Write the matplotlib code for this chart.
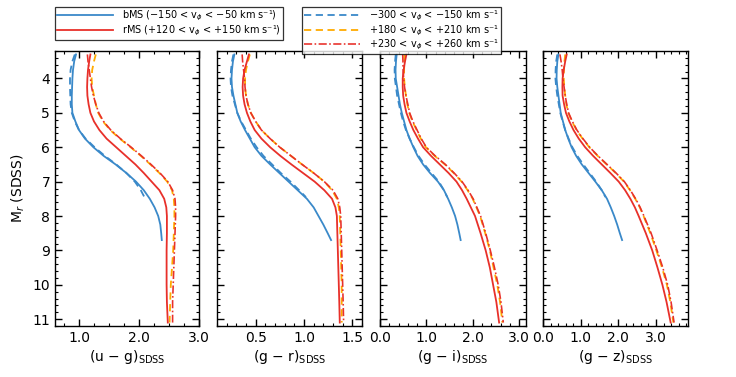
import matplotlib
matplotlib.use("Agg")
from matplotlib import pyplot as plt
from matplotlib.ticker import MultipleLocator, FormatStrFormatter
from matplotlib.lines import Line2D

# absolute magnitude grids
mr_blue = [3.3, 3.5, 3.75, 4.0, 4.25, 4.5, 4.75, 5.0, 5.25, 5.5, 5.75, 6.0,
           6.25, 6.5, 6.75, 7.0, 7.25, 7.5, 7.75, 8.0, 8.25, 8.5, 8.7]
mr_blue_dash = [3.3, 3.5, 3.75, 4.0, 4.25, 4.5, 4.75, 5.0, 5.25, 5.5, 5.75,
                6.0, 6.25, 6.5, 6.75, 7.0, 7.25, 7.45]
mr_red = [3.3, 3.5, 3.75, 4.0, 4.25, 4.5, 4.75, 5.0, 5.25, 5.5, 5.75, 6.0,
          6.25, 6.5, 6.75, 7.0, 7.25, 7.5, 7.75, 8.0, 8.5, 9.0, 9.5, 10.0, 10.5, 11.1]

# (u - g)
ug_bms = [0.95, 0.92, 0.90, 0.89, 0.885, 0.88, 0.88, 0.89, 0.94, 1.00, 1.10, 1.24,
          1.41, 1.61, 1.79, 1.95, 2.08, 2.18, 2.26, 2.32, 2.355, 2.37, 2.38]
ug_v300 = [0.93, 0.89, 0.86, 0.85, 0.85, 0.855, 0.86, 0.88, 0.93, 1.00, 1.11, 1.26,
           1.43, 1.62, 1.79, 1.93, 2.03, 2.09]
ug_rms = [1.19, 1.17, 1.15, 1.14, 1.135, 1.14, 1.16, 1.19, 1.25, 1.34, 1.46, 1.62, 1.78,
          1.94, 2.08, 2.21, 2.34, 2.42, 2.455, 2.465, 2.465, 2.46, 2.46, 2.46, 2.465, 2.48]
ug_v180 = [1.28, 1.25, 1.22, 1.21, 1.22, 1.25, 1.28, 1.32, 1.40, 1.52, 1.68, 1.86, 2.03,
           2.19, 2.34, 2.47, 2.55, 2.58, 2.59, 2.59, 2.58, 2.57, 2.55, 2.53, 2.52, 2.51]
ug_v230 = [1.14, 1.15, 1.17, 1.19, 1.21, 1.24, 1.28, 1.33, 1.41, 1.53, 1.69, 1.87, 2.04,
           2.20, 2.35, 2.48, 2.56, 2.60, 2.61, 2.61, 2.60, 2.59, 2.58, 2.57, 2.56, 2.56]

# (g - r)
gr_bms = [0.28, 0.265, 0.255, 0.25, 0.255, 0.27, 0.29, 0.31, 0.345, 0.39, 0.44, 0.49,
          0.56, 0.65, 0.745, 0.84, 0.935, 1.03, 1.10, 1.15, 1.20, 1.245, 1.28]
gr_v300 = [0.27, 0.255, 0.245, 0.24, 0.245, 0.26, 0.285, 0.31, 0.35, 0.40, 0.45, 0.51,
           0.58, 0.67, 0.76, 0.86, 0.95, 1.02]
gr_rms = [0.43, 0.41, 0.385, 0.37, 0.365, 0.37, 0.385, 0.41, 0.445, 0.49, 0.56, 0.65, 0.755,
          0.87, 0.99, 1.11, 1.21, 1.29, 1.325, 1.34, 1.345, 1.35, 1.355, 1.36, 1.365, 1.37]
gr_v180 = [0.44, 0.42, 0.40, 0.39, 0.39, 0.40, 0.42, 0.45, 0.50, 0.56, 0.65, 0.75, 0.865,
           0.98, 1.10, 1.21, 1.29, 1.34, 1.36, 1.37, 1.375, 1.38, 1.385, 1.39, 1.39, 1.39]
gr_v230 = [0.36, 0.365, 0.375, 0.385, 0.39, 0.40, 0.42, 0.45, 0.50, 0.56, 0.65, 0.75, 0.865,
           0.98, 1.10, 1.21, 1.30, 1.35, 1.37, 1.38, 1.385, 1.39, 1.395, 1.40, 1.405, 1.41]

# (g - i)
gi_bms = [0.36, 0.345, 0.335, 0.34, 0.37, 0.40, 0.43, 0.47, 0.52, 0.57, 0.64, 0.72,
          0.81, 0.93, 1.08, 1.25, 1.38, 1.47, 1.55, 1.62, 1.67, 1.71, 1.74]
gi_v300 = [0.34, 0.325, 0.315, 0.32, 0.345, 0.37, 0.41, 0.45, 0.50, 0.56, 0.64, 0.73,
           0.83, 0.96, 1.11, 1.27, 1.38, 1.45]
gi_rms = [0.57, 0.54, 0.51, 0.49, 0.49, 0.50, 0.53, 0.57, 0.64, 0.72, 0.82, 0.93, 1.10,
          1.29, 1.48, 1.65, 1.77, 1.87, 1.96, 2.05, 2.17, 2.28, 2.37, 2.44, 2.51, 2.57]
gi_v180 = [0.53, 0.525, 0.52, 0.52, 0.535, 0.56, 0.59, 0.63, 0.70, 0.79, 0.88, 0.99, 1.18,
           1.40, 1.59, 1.76, 1.89, 2.00, 2.08, 2.16, 2.27, 2.37, 2.45, 2.53, 2.59, 2.64]
gi_v230 = [0.49, 0.495, 0.50, 0.51, 0.53, 0.56, 0.60, 0.64, 0.71, 0.80, 0.89, 1.00, 1.19,
           1.41, 1.60, 1.77, 1.90, 2.01, 2.09, 2.17, 2.28, 2.38, 2.47, 2.55, 2.61, 2.66]

# (g - z)
gz_bms = [0.41, 0.38, 0.365, 0.36, 0.38, 0.41, 0.44, 0.47, 0.53, 0.59, 0.67, 0.76,
          0.88, 1.03, 1.21, 1.39, 1.56, 1.70, 1.80, 1.89, 1.97, 2.04, 2.10]
gz_v300 = [0.38, 0.35, 0.335, 0.33, 0.35, 0.38, 0.42, 0.46, 0.52, 0.59, 0.68, 0.78,
           0.91, 1.07, 1.24, 1.41, 1.56, 1.66]
gz_rms = [0.63, 0.59, 0.55, 0.52, 0.515, 0.52, 0.56, 0.61, 0.70, 0.81, 0.95, 1.12, 1.33,
          1.56, 1.79, 2.01, 2.18, 2.32, 2.44, 2.54, 2.73, 2.90, 3.04, 3.17, 3.28, 3.39]
gz_v180 = [0.59, 0.57, 0.555, 0.55, 0.565, 0.59, 0.62, 0.67, 0.77, 0.89, 1.05, 1.23, 1.45,
           1.69, 1.93, 2.15, 2.31, 2.45, 2.57, 2.67, 2.85, 3.01, 3.16, 3.29, 3.38, 3.46]
gz_v230 = [0.45, 0.48, 0.51, 0.53, 0.56, 0.59, 0.63, 0.68, 0.78, 0.90, 1.06, 1.24, 1.46,
           1.70, 1.94, 2.16, 2.32, 2.46, 2.58, 2.68, 2.87, 3.03, 3.18, 3.31, 3.40, 3.48]

panels = [
    ("(u $-$ g)$_{\\rm SDSS}$", ug_bms, ug_v300, ug_rms, ug_v180, ug_v230, (0.6, 3.0), 1.0, 0.25),
    ("(g $-$ r)$_{\\rm SDSS}$", gr_bms, gr_v300, gr_rms, gr_v180, gr_v230, (0.1, 1.6), 0.5, 0.1),
    ("(g $-$ i)$_{\\rm SDSS}$", gi_bms, gi_v300, gi_rms, gi_v180, gi_v230, (0.0, 3.15), 1.0, 0.2),
    ("(g $-$ z)$_{\\rm SDSS}$", gz_bms, gz_v300, gz_rms, gz_v180, gz_v230, (0.0, 3.85), 1.0, 0.2),
]

blue = "#3a89c9"
red = "#e8302a"
orange = "#ffaa00"
lw = 1.3
dash = (0, (4, 2.5))
dashdot = (0, (5, 1.5, 1, 1.5))

fig = plt.figure(figsize=(7.36, 3.77), dpi=100)
lefts = [55, 217, 380, 543]
widths = [144, 145, 146, 145]

for i, (xlabel, bms, v300, rms, v180, v230, xlim, major, minor) in enumerate(panels):
    ax = fig.add_axes([lefts[i] / 736, 1 - 326 / 377, widths[i] / 736, 275 / 377])
    ax.plot(v300, mr_blue_dash, color=blue, ls=dash, lw=lw)
    ax.plot(bms, mr_blue, color=blue, lw=lw)
    ax.plot(v180, mr_red, color=orange, ls=dash, lw=lw)
    ax.plot(v230, mr_red, color=red, ls=dashdot, lw=lw * 0.9)
    ax.plot(rms, mr_red, color=red, lw=lw)

    ax.set_xlim(*xlim)
    ax.set_ylim(11.2, 3.2)
    ax.xaxis.set_major_locator(MultipleLocator(major))
    ax.xaxis.set_minor_locator(MultipleLocator(minor))
    ax.xaxis.set_major_formatter(FormatStrFormatter("%.1f"))
    ax.yaxis.set_major_locator(MultipleLocator(1))
    ax.yaxis.set_minor_locator(MultipleLocator(0.2))
    ax.tick_params(which="both", direction="in", top=True, right=True, labelsize=10)
    ax.tick_params(which="major", length=5, width=1)
    ax.tick_params(which="minor", length=2.5, width=0.8)
    for s in ax.spines.values():
        s.set_linewidth(1.0)
    ax.set_xlabel(xlabel, fontsize=10, labelpad=2)
    if i == 0:
        ax.set_ylabel("M$_r$ (SDSS)", fontsize=10, labelpad=4)
    else:
        ax.set_yticklabels([])

left_handles = [
    Line2D([], [], color=blue, lw=lw),
    Line2D([], [], color=red, lw=lw),
]
left_labels = [
    "bMS (\u2212150 < v$_\\phi$ < \u221250 km s\u207b\u00b9)",
    "rMS (+120 < v$_\\phi$ < +150 km s\u207b\u00b9)",
]
right_handles = [
    Line2D([], [], color=blue, ls=dash, lw=lw),
    Line2D([], [], color=orange, ls=dash, lw=lw),
    Line2D([], [], color=red, ls=dashdot, lw=lw * 0.9),
]
right_labels = [
    "\u2212300 < v$_\\phi$ < \u2212150 km s\u207b\u00b9",
    "+180 < v$_\\phi$ < +210 km s\u207b\u00b9",
    "+230 < v$_\\phi$ < +260 km s\u207b\u00b9",
]

leg_kw = dict(fontsize=7.0, frameon=True, fancybox=False, edgecolor="black",
              handlelength=5.8, labelspacing=0.0, borderpad=0.2,
              handletextpad=0.9, borderaxespad=0)
leg1 = fig.legend(left_handles, left_labels, loc="upper left",
                  bbox_to_anchor=(55 / 736, 1 - 7 / 377), **leg_kw)
leg2 = fig.legend(right_handles, right_labels, loc="upper left",
                  bbox_to_anchor=(302 / 736, 1 - 7 / 377), **leg_kw)
for leg in (leg1, leg2):
    leg.get_frame().set_linewidth(0.9)

fig.savefig("out.png", dpi=100)
